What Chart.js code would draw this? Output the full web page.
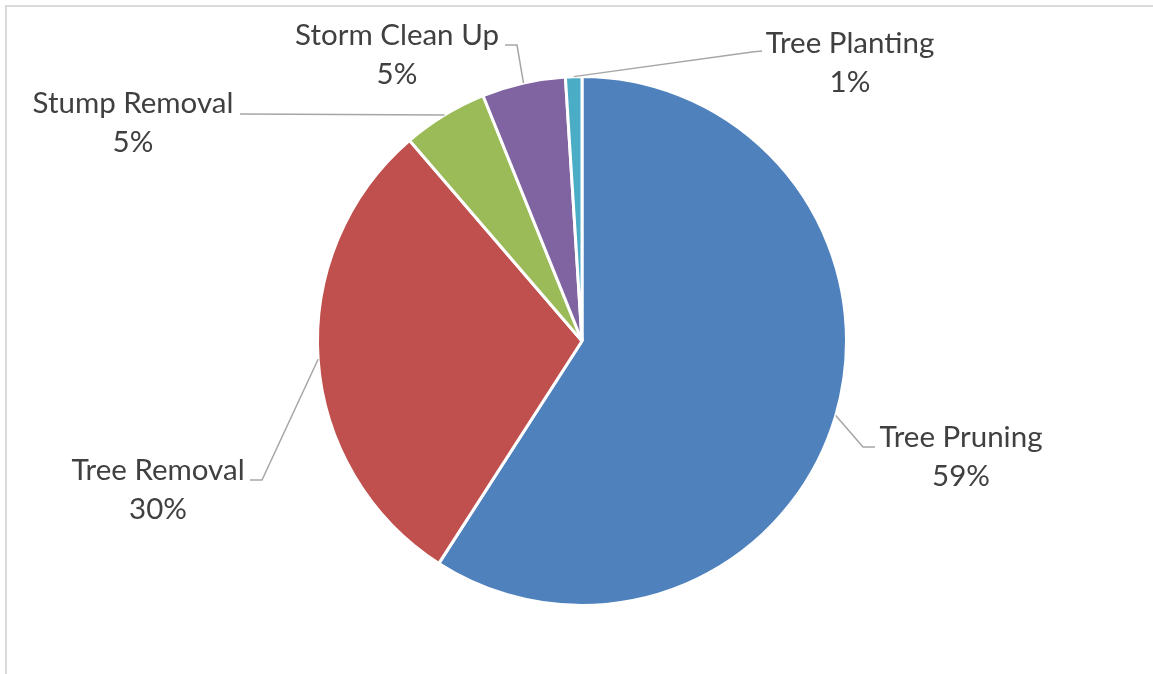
<!DOCTYPE html>
<html>
<head>
<meta charset="utf-8">
<script src="https://cdn.jsdelivr.net/npm/chart.js@4"></script>
<style>
  body { margin: 0; background: #fff; }
  canvas { display: block; }
</style>
</head>
<body>
<canvas id="pieChart" width="1153" height="674"></canvas>
<script>
const categories = ['Tree Pruning', 'Tree Removal', 'Stump Removal', 'Storm Clean Up', 'Tree Planting'];
const shares = [59.1, 29.6, 5.2, 5.1, 1.0];
const sliceColors = ['#4F81BD', '#C0504D', '#9BBB59', '#8064A2', '#4BACC6'];

// where each data label sits (first line baseline) and where its leader line bends
const labelLayout = [
    { x: 961, y: 447, elbow: [863, 447], end: [875, 447] },
    { x: 158, y: 480, elbow: [262, 480], end: [250, 480] },
    { x: 133, y: 113, elbow: [240, 114], end: [240, 114] },
    { x: 397, y: 45,  elbow: [517, 45],  end: [505, 45] },
    { x: 850, y: 53,  elbow: [752, 52],  end: [762, 51] }
];

const LABEL_FONT = '29.5px Lato';
const LINE_GAP = 39;

const total = shares.reduce((a, b) => a + b, 0);

const frameAndLabels = {
    id: 'frameAndLabels',
    beforeDraw(chart) {
        const ctx = chart.ctx;
        ctx.save();
        ctx.fillStyle = '#fff';
        ctx.fillRect(0, 0, chart.width, chart.height);
        ctx.strokeStyle = '#d9d9d9';
        ctx.lineWidth = 2;
        ctx.beginPath();
        ctx.moveTo(6, chart.height);
        ctx.lineTo(6, 6);
        ctx.lineTo(chart.width, 6);
        ctx.stroke();
        ctx.restore();
    },
    afterDraw(chart) {
        const ctx = chart.ctx;
        const meta = chart.getDatasetMeta(0);
        ctx.save();
        meta.data.forEach((arc, i) => {
            const p = arc.getProps(['x', 'y', 'startAngle', 'endAngle', 'outerRadius'], true);
            const mid = (p.startAngle + p.endAngle) / 2;
            const ax = p.x + Math.cos(mid) * p.outerRadius;
            const ay = p.y + Math.sin(mid) * p.outerRadius;
            const lay = labelLayout[i];

            // leader line
            ctx.strokeStyle = '#a6a6a6';
            ctx.lineWidth = 1.5;
            ctx.beginPath();
            ctx.moveTo(ax, ay);
            ctx.lineTo(lay.elbow[0], lay.elbow[1]);
            ctx.lineTo(lay.end[0], lay.end[1]);
            ctx.stroke();

            // label text
            ctx.fillStyle = '#404040';
            ctx.font = LABEL_FONT;
            ctx.textAlign = 'center';
            ctx.textBaseline = 'alphabetic';
            ctx.fillText(categories[i], lay.x, lay.y);
            ctx.fillText(Math.round(shares[i] / total * 100) + '%', lay.x, lay.y + LINE_GAP);
        });
        ctx.restore();
    }
};

new Chart(document.getElementById('pieChart'), {
    type: 'pie',
    data: {
        labels: categories,
        datasets: [{
            data: shares,
            backgroundColor: sliceColors,
            borderColor: '#ffffff',
            borderWidth: 3
        }]
    },
    options: {
        responsive: false,
        animation: false,
        layout: { padding: { left: 11, right: 0, top: 75, bottom: 67 } },
        plugins: {
            legend: { display: false },
            tooltip: { enabled: false }
        }
    },
    plugins: [frameAndLabels]
});
</script>
</body>
</html>
